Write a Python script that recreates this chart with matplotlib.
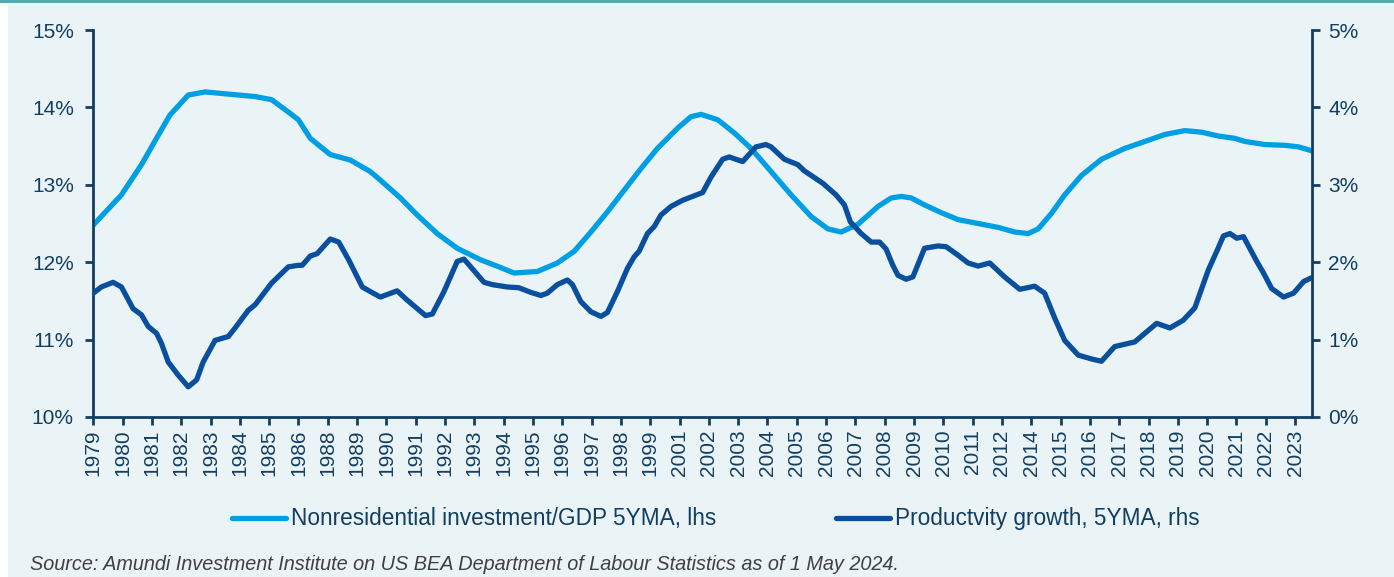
import matplotlib
matplotlib.use("Agg")
import matplotlib.pyplot as plt
from matplotlib.patches import Rectangle
from matplotlib.ticker import FuncFormatter

# Nonresidential investment / GDP, 5Y moving average (lhs, %)
inv_years = [1979.33, 1980.37, 1981.11, 1981.73, 1982.16, 1982.84, 1983.46, 1984.07,
             1984.69, 1985.31, 1985.92, 1986.54, 1986.91, 1987.35, 1988.09, 1988.83,
             1989.57, 1989.94, 1990.68, 1991.30, 1992.04, 1992.78, 1993.65, 1994.39,
             1994.88, 1995.74, 1996.48, 1997.10, 1997.72, 1998.33, 1998.95, 1999.57,
             2000.18, 2000.92, 2001.42, 2001.79, 2002.41, 2003.02, 2003.64, 2004.38,
             2005.12, 2005.86, 2006.48, 2006.97, 2007.59, 2008.33, 2008.82, 2009.19,
             2009.56, 2010.05, 2010.67, 2011.29, 2012.03, 2012.77, 2013.38, 2013.88,
             2014.25, 2014.74, 2015.23, 2015.85, 2016.59, 2017.45, 2018.19, 2018.93,
             2019.67, 2020.29, 2020.91, 2021.52, 2021.89, 2022.63, 2023.38, 2023.87,
             2024.36]
inv_vals = [12.48, 12.87, 13.26, 13.64, 13.90, 14.16, 14.20, 14.18,
            14.16, 14.14, 14.10, 13.94, 13.84, 13.60, 13.39, 13.32,
            13.17, 13.06, 12.83, 12.61, 12.37, 12.18, 12.03, 11.93,
            11.86, 11.88, 11.99, 12.14, 12.39, 12.65, 12.93, 13.21,
            13.47, 13.73, 13.88, 13.91, 13.84, 13.67, 13.47, 13.17,
            12.87, 12.59, 12.43, 12.39, 12.49, 12.72, 12.83, 12.85,
            12.83, 12.74, 12.64, 12.55, 12.50, 12.45, 12.39, 12.37,
            12.43, 12.63, 12.87, 13.12, 13.33, 13.47, 13.56, 13.65,
            13.70, 13.68, 13.63, 13.60, 13.56, 13.52, 13.51, 13.49,
            13.44]

# Productivity growth, 5Y moving average (rhs, %)
prod_years = [1979.33, 1979.63, 1980.06, 1980.37, 1980.80, 1981.11, 1981.36, 1981.67,
              1981.85, 1982.10, 1982.47, 1982.84, 1983.15, 1983.39, 1983.83, 1984.32,
              1984.57, 1985.06, 1985.31, 1985.92, 1986.54, 1986.91, 1987.05, 1987.35,
              1987.60, 1988.09, 1988.40, 1988.77, 1989.27, 1989.57, 1989.94, 1990.56,
              1990.93, 1991.61, 1991.86, 1992.29, 1992.78, 1993.03, 1993.77, 1994.08,
              1994.63, 1995.06, 1995.50, 1995.87, 1996.11, 1996.48, 1996.85, 1997.04,
              1997.35, 1997.72, 1998.09, 1998.33, 1998.70, 1999.07, 1999.32, 1999.50,
              1999.81, 2000.06, 2000.31, 2000.68, 2001.11, 2001.48, 2001.85, 2002.16,
              2002.59, 2002.83, 2003.33, 2003.82, 2004.19, 2004.38, 2004.87, 2005.37,
              2005.61, 2006.29, 2006.78, 2007.09, 2007.31, 2007.71, 2008.08, 2008.39,
              2008.63, 2008.88, 2009.07, 2009.37, 2009.62, 2010.05, 2010.55, 2010.85,
              2011.29, 2011.66, 2012.03, 2012.46, 2013.01, 2013.57, 2014.12, 2014.49,
              2014.86, 2015.23, 2015.73, 2016.22, 2016.59, 2017.08, 2017.82, 2018.19,
              2018.63, 2019.12, 2019.61, 2020.04, 2020.54, 2020.85, 2021.10, 2021.34,
              2021.59, 2021.84, 2022.33, 2022.58, 2022.88, 2023.32, 2023.69, 2024.06,
              2024.36]
prod_vals = [1.60, 1.68, 1.74, 1.68, 1.40, 1.32, 1.17, 1.08,
             0.95, 0.71, 0.54, 0.39, 0.48, 0.71, 0.99, 1.04,
             1.15, 1.38, 1.45, 1.73, 1.94, 1.96, 1.96, 2.08,
             2.11, 2.30, 2.26, 2.03, 1.68, 1.62, 1.55, 1.63,
             1.51, 1.31, 1.33, 1.62, 2.01, 2.04, 1.74, 1.71,
             1.68, 1.67, 1.61, 1.57, 1.60, 1.71, 1.77, 1.71,
             1.49, 1.36, 1.30, 1.35, 1.62, 1.92, 2.07, 2.14,
             2.37, 2.46, 2.61, 2.72, 2.80, 2.85, 2.90, 3.10,
             3.33, 3.36, 3.30, 3.49, 3.52, 3.49, 3.33, 3.26,
             3.18, 3.02, 2.87, 2.74, 2.52, 2.37, 2.26, 2.26,
             2.17, 1.96, 1.83, 1.78, 1.81, 2.18, 2.21, 2.20,
             2.09, 1.99, 1.95, 1.99, 1.81, 1.65, 1.69, 1.60,
             1.28, 0.99, 0.80, 0.75, 0.72, 0.91, 0.97, 1.08,
             1.21, 1.15, 1.25, 1.41, 1.90, 2.14, 2.34, 2.37,
             2.31, 2.33, 2.01, 1.86, 1.66, 1.55, 1.60, 1.75,
             1.80]

tick_labels = ["1979", "1980", "1981", "1982", "1983", "1984", "1985", "1986",
               "1988", "1989", "1990", "1991", "1992", "1993", "1994", "1995",
               "1996", "1997", "1998", "1999", "2001", "2002", "2003", "2004",
               "2005", "2006", "2007", "2008", "2009", "2010", "2011", "2012",
               "2014", "2015", "2016", "2017", "2018", "2019", "2020", "2021",
               "2022", "2023"]

light = "#009FE3"
dark = "#0A4F9E"
navy = "#123E62"
bg = "#EAF4F6"

plt.rcParams["font.family"] = ["Liberation Sans", "DejaVu Sans"]

fig = plt.figure(figsize=(13.94, 5.77), dpi=100, facecolor="white")
W, H = 1394, 577
fig.patches.append(Rectangle((8 / W, 0), 1 - 8 / W, 1 - 3 / H, transform=fig.transFigure,
                             facecolor=bg, edgecolor="none", zorder=-10))
fig.patches.append(Rectangle((0, 1 - 3 / H), 1, 3 / H, transform=fig.transFigure,
                             facecolor="#56AAAE", edgecolor="none", zorder=-10))

ax = fig.add_axes([93.3 / W, 1 - 417 / H, (1311.7 - 93.3) / W, (417 - 30) / H])
ax.set_facecolor("none")
ax2 = ax.twinx()

l1, = ax.plot(inv_years, inv_vals, color=light, lw=3.8, solid_capstyle="round",
              solid_joinstyle="round", label="Nonresidential investment/GDP 5YMA, lhs")
l2, = ax2.plot(prod_years, prod_vals, color=dark, lw=3.8, solid_capstyle="round",
               solid_joinstyle="round", label="Productvity growth, 5YMA, rhs")

start = inv_years[0]
ticks = [start + 13 * k / 12 for k in range(len(tick_labels))]
ax.set_xlim(start, inv_years[-1])
ax.set_xticks(ticks)
ax.set_xticklabels(tick_labels, rotation=90)

ax.set_ylim(10, 15)
ax.set_yticks([10, 11, 12, 13, 14, 15])
ax2.set_ylim(0, 5)
ax2.set_yticks([0, 1, 2, 3, 4, 5])
pct = FuncFormatter(lambda v, p: f"{v:.0f}%")
ax.yaxis.set_major_formatter(pct)
ax2.yaxis.set_major_formatter(pct)

for a in (ax, ax2):
    for s in a.spines.values():
        s.set_color(navy)
        s.set_linewidth(2.0)
    a.spines["top"].set_visible(False)
    a.tick_params(colors=navy, labelcolor=navy, width=2.0, length=6, labelsize=15)
ax.spines["right"].set_visible(False)
ax2.spines["left"].set_visible(False)
ax2.spines["bottom"].set_visible(False)
ax.tick_params(axis="y", pad=8)
ax2.tick_params(axis="y", pad=6)
ax.tick_params(axis="x", pad=3)

fig.legend([l1, l2], [l1.get_label(), l2.get_label()], ncol=2, frameon=False,
           loc="center left", bbox_to_anchor=(232 / W, 1 - 519 / H),
           borderpad=0, borderaxespad=0, handlelength=2.4, handletextpad=0.2,
           columnspacing=5.3, prop={"size": 16.3}, labelcolor=navy)

fig.text(30 / W, 1 - 565 / H,
         "Source: Amundi Investment Institute on US BEA Department of Labour Statistics as of 1 May 2024.",
         fontsize=14.3, style="italic", color="#404040", va="center", ha="left")

fig.savefig("out.png", dpi=100, facecolor=fig.get_facecolor())
